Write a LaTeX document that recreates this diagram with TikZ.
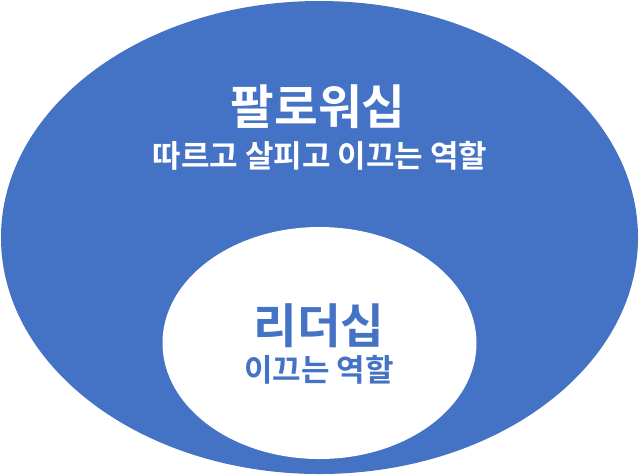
\documentclass[tikz,border=0pt]{standalone}
\usepackage{fontspec}
\newfontfamily\kr{Noto Sans CJK KR Bold}
\definecolor{officeblue}{HTML}{4472C4}
\tikzset{
  titletext/.style={font=\kr\fontsize{47.5}{52}\selectfont, inner sep=0pt},
  subtext/.style={font=\kr\fontsize{31}{34}\selectfont, inner sep=0pt},
}
\begin{document}
\begin{tikzpicture}[x=1pt,y=-1pt]
\useasboundingbox (0,0) rectangle (639,475);
\fill[officeblue] (319.5,237.5) ellipse [x radius=318.5, y radius=236.5];
\fill[white] (319.5,343) ellipse [x radius=157, y radius=116];
\node[titletext, text=white] (outertitle) at (318,107) {팔로워십};
\node[subtext, text=white] (outersub) at (320,156) {따르고 살피고 이끄는 역할};
\node[titletext, text=officeblue] (innertitle) at (319,326) {리더십};
\node[subtext, text=officeblue] (innersub) at (319,370) {이끄는 역할};
\end{tikzpicture}
\end{document}
